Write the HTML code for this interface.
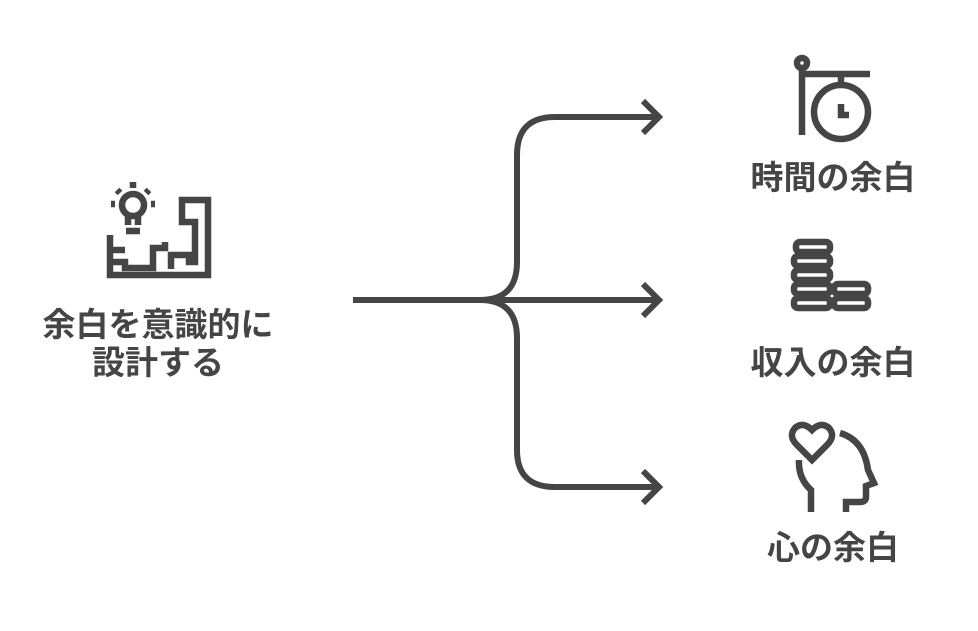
<!DOCTYPE html>
<html><head><meta charset="utf-8"><style>
html,body{margin:0;padding:0;background:#fff;}
svg{display:block}
text{font-family:"Liberation Sans","Noto Sans CJK JP",sans-serif;font-weight:bold;fill:#454545;font-size:33px;text-anchor:middle}
</style></head><body>
<svg width="978" height="631" viewBox="0 0 978 631">
<g fill="none" stroke="#454545" stroke-width="6" stroke-linecap="butt">
<!-- connectors -->
<path d="M353 300 H658"/>
<path d="M480 300 Q517 300 517 262 V155 Q517 117 555 117 H658"/>
<path d="M480 300 Q517 300 517 338 V450 Q517 487 555 487 H658"/>
<path d="M643 101 L659 117 L643 133"/>
<path d="M643 284 L659 300 L643 316"/>
<path d="M643 471 L659 487 L643 503"/>
<!-- lightbulb/maze icon -->
<g stroke-width="6.5">
<circle cx="133" cy="205" r="11"/>
<path d="M128 215 V225 M138 215 V225 M126 231 H140"/>
<path d="M133 182 V188 M117 190 L120 193 M149 190 L146 193 M111 204 H115 M151 204 H155" />
<path d="M110 235 V275 H208 V200 H182 V222 H195 V262 H189 V255 H171 V269 M110 250 H125 M110 262 H125 V268 H153 V248 H165 V242"/>
</g>
<!-- clock icon -->
<g stroke-width="6.5">
<circle cx="802" cy="63" r="5"/>
<path d="M802 68 V135 M802 74 H870"/>
<circle cx="841" cy="112" r="27"/>
<path d="M841 74 V85 M841 104 V115 H849"/>
</g>
<!-- coins icon -->
<g stroke-width="6.5">
<rect x="796" y="242" width="34" height="10" rx="4"/>
<rect x="794" y="256" width="36" height="10" rx="4"/>
<rect x="794" y="270" width="36" height="10" rx="4"/>
<rect x="794" y="284" width="36" height="10" rx="4"/>
<rect x="794" y="298" width="36" height="10" rx="4"/>
<rect x="834" y="284" width="34" height="10" rx="4"/>
<rect x="834" y="298" width="34" height="10" rx="4"/>
</g>
<!-- head heart icon -->
<g stroke-width="6.5">
<path d="M812 460 L797 445 Q788 436 795 428 Q803 421 812 430 Q821 421 829 428 Q836 436 827 445 Z"/>
<path d="M799 460 Q798 478 811 490 V512"/>
<path d="M840 433 Q864 440 868 470 L874 483 L866 486 V497 Q866 502 860 502 H846 V512"/>
</g>
</g>
<text x="158" y="336">余白を意識的に</text>
<text x="158" y="374">設計する</text>
<text x="833" y="189">時間の余白</text>
<text x="833" y="374">収入の余白</text>
<text x="833" y="559">心の余白</text>
</svg>
</body></html>
